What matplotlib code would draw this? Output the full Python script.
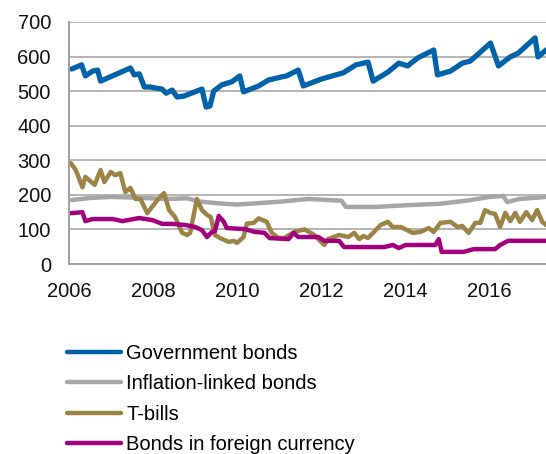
import matplotlib
matplotlib.use("Agg")
import matplotlib.pyplot as plt

plt.rcParams["font.family"] = ["Liberation Sans", "DejaVu Sans"]

# Outstanding debt by instrument, read as (decimal year, value) breakpoints
gov_years = [2006.06, 2006.30, 2006.39, 2006.56, 2006.68, 2006.75, 2007.46, 2007.55,
             2007.67, 2007.79, 2007.93, 2008.05, 2008.21, 2008.31, 2008.45, 2008.57,
             2008.74, 2009.16, 2009.26, 2009.35, 2009.44, 2009.63, 2009.87, 2010.06,
             2010.15, 2010.51, 2010.74, 2011.05, 2011.17, 2011.45, 2011.57, 2012.00,
             2012.52, 2012.82, 2013.11, 2013.23, 2013.58, 2013.84, 2014.05, 2014.29,
             2014.67, 2014.76, 2015.07, 2015.35, 2015.54, 2016.02, 2016.21, 2016.49,
             2016.68, 2017.08, 2017.15, 2017.34]
gov_values = [564, 576, 544, 558, 561, 529, 567, 547,
              550, 512, 512, 509, 506, 494, 503, 483,
              486, 506, 454, 457, 500, 518, 527, 544,
              498, 515, 532, 541, 544, 561, 515, 535,
              553, 576, 584, 529, 555, 581, 573, 596,
              619, 547, 558, 581, 587, 639, 573, 599,
              610, 654, 599, 619]

infl_years = [2006.06, 2006.50, 2007.00, 2007.60, 2008.30, 2008.80, 2009.15, 2009.70,
              2010.00, 2010.50, 2011.00, 2011.50, 2011.70, 2012.00, 2012.48, 2012.58,
              2013.30, 2014.00, 2014.80, 2015.50, 2016.00, 2016.32, 2016.42, 2016.70,
              2017.34]
infl_values = [185, 191, 194, 192, 188, 190, 180, 174,
               172, 176, 180, 186, 188, 186, 183, 165,
               165, 170, 174, 184, 194, 197, 179, 188,
               194]

tbill_years = [2006.04, 2006.16, 2006.32, 2006.39, 2006.61, 2006.75, 2006.84, 2006.99,
               2007.10, 2007.22, 2007.34, 2007.46, 2007.58, 2007.70, 2007.86, 2008.10,
               2008.26, 2008.38, 2008.52, 2008.69, 2008.81, 2008.88, 2009.04, 2009.16,
               2009.28, 2009.37, 2009.47, 2009.59, 2009.80, 2009.92, 2009.99, 2010.15,
               2010.23, 2010.39, 2010.51, 2010.70, 2010.82, 2010.98, 2011.12, 2011.36,
               2011.60, 2011.83, 2012.07, 2012.16, 2012.42, 2012.64, 2012.78, 2012.90,
               2013.00, 2013.11, 2013.23, 2013.41, 2013.58, 2013.70, 2013.89, 2014.17,
               2014.36, 2014.55, 2014.67, 2014.83, 2015.07, 2015.24, 2015.35, 2015.50,
               2015.66, 2015.78, 2015.89, 2016.01, 2016.13, 2016.25, 2016.37, 2016.49,
               2016.61, 2016.72, 2016.87, 2017.01, 2017.13, 2017.25, 2017.34]
tbill_values = [292, 272, 222, 252, 229, 272, 237, 266,
                257, 263, 208, 220, 188, 188, 147, 185,
                205, 156, 136, 90, 84, 90, 188, 156,
                142, 136, 84, 75, 64, 67, 61, 78,
                117, 119, 132, 122, 90, 75, 75, 93,
                100, 84, 55, 72, 84, 78, 90, 72,
                81, 75, 90, 113, 122, 107, 107, 90,
                93, 104, 93, 119, 122, 107, 110, 90,
                119, 119, 156, 148, 145, 107, 148, 124,
                148, 122, 150, 127, 156, 122, 113]

fx_years = [2006.04, 2006.32, 2006.39, 2006.56, 2007.04, 2007.27, 2007.67, 2007.98,
            2008.22, 2008.45, 2008.76, 2009.00, 2009.16, 2009.28, 2009.40, 2009.47,
            2009.56, 2009.68, 2009.75, 2010.18, 2010.41, 2010.65, 2010.77, 2011.22,
            2011.34, 2011.45, 2011.93, 2012.07, 2012.42, 2012.54, 2013.49, 2013.70,
            2013.84, 2014.00, 2014.71, 2014.79, 2014.86, 2015.38, 2015.62, 2016.13,
            2016.25, 2016.44, 2017.34]
fx_values = [147, 150, 124, 130, 130, 124, 133, 127,
             116, 116, 113, 107, 98, 78, 93, 95,
             139, 122, 104, 101, 93, 90, 75, 72,
             90, 78, 78, 67, 67, 49, 49, 55,
             46, 55, 55, 72, 35, 35, 43, 43,
             55, 67, 67]

series = [
    (gov_years, gov_values, "Government bonds", "#0062a8", 3.8),
    (infl_years, infl_values, "Inflation-linked bonds", "#a6a6a6", 3.2),
    (tbill_years, tbill_values, "T-bills", "#9c8447", 3.2),
    (fx_years, fx_values, "Bonds in foreign currency", "#a2007c", 3.2),
]

year_ticks = [2006, 2008, 2010, 2012, 2014, 2016]
value_ticks = [0, 100, 200, 300, 400, 500, 600, 700]

fig = plt.figure(figsize=(5.46, 4.54), dpi=100)
ax = fig.add_axes([69 / 546, 190 / 454, 477 / 546, 242 / 454])

for x, y, label, color, lw in series:
    ax.plot(x, y, color=color, linewidth=lw, label=label,
            solid_joinstyle="round", solid_capstyle="round")

ax.set_xlim(2006.06, 2017.34)
ax.set_ylim(0, 700)
ax.set_xticks(year_ticks)
ax.set_yticks(value_ticks)
ax.tick_params(length=0, pad=13, labelsize=14.5, colors="#111111")
ax.grid(axis="y", color="#a0a0a0", linewidth=1.1)
ax.set_axisbelow(True)
for side in ["top", "right"]:
    ax.spines[side].set_visible(False)
for side in ["left", "bottom"]:
    ax.spines[side].set_color("#a0a0a0")
    ax.spines[side].set_linewidth(1.4)

# legend sits under the plot, one entry per row
handles, labels = ax.get_legend_handles_labels()
leg = fig.legend(handles, labels, loc="upper left",
                 bbox_to_anchor=(67 / 546, 1 - 344 / 454), frameon=False,
                 fontsize=14.5, handlelength=2.7, handletextpad=0.25,
                 labelspacing=0.56, borderpad=0, borderaxespad=0)
for line in leg.get_lines():
    line.set_linewidth(3.2)
    line.set_solid_capstyle("round")

fig.savefig("out.png", dpi=100)
